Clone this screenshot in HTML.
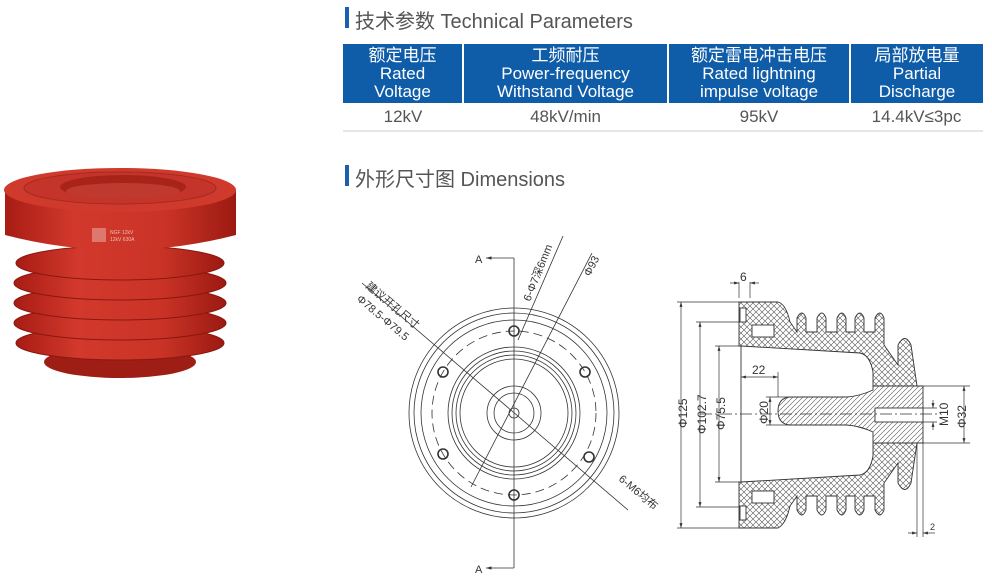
<!DOCTYPE html>
<html><head><meta charset="utf-8"><style>
body{margin:0;width:992px;height:579px;background:#fff;overflow:hidden;position:relative;font-family:"Liberation Sans","Noto Sans CJK SC",sans-serif;}
.t{position:absolute;color:#555;font-size:20px;}
.bar{position:absolute;width:4px;height:21px;background:#1a5fb0;}
table{position:absolute;left:343px;top:44px;width:640px;border-collapse:collapse;}
th{background:#0f5ca8;color:#fff;font-weight:normal;font-size:17px;line-height:18px;height:59px;border-right:2px solid #fff;padding:0;}
th:last-child{border-right:none}
td{text-align:center;font-size:17px;color:#555;height:27px;border-bottom:2px solid #e6e6e6;padding:0;}
</style></head><body>
<div class="bar" style="left:345px;top:7px"></div>
<div class="t" style="left:355px;top:5px">技术参数 Technical Parameters</div>
<table><tr><th style="width:119px">额定电压<br>Rated<br>Voltage</th><th style="width:203px">工频耐压<br>Power-frequency<br>Withstand Voltage</th><th style="width:180px">额定雷电冲击电压<br>Rated lightning<br>impulse voltage</th><th>局部放电量<br>Partial<br>Discharge</th></tr>
<tr><td>12kV</td><td>48kV/min</td><td>95kV</td><td>14.4kV≤3pc</td></tr></table>
<div class="bar" style="left:345px;top:165px"></div>
<div class="t" style="left:355px;top:163px">外形尺寸图 Dimensions</div>

<svg width="992" height="579" style="position:absolute;left:0;top:0" xmlns="http://www.w3.org/2000/svg">
<defs>
<linearGradient id="rg" x1="0" x2="1"><stop offset="0" stop-color="#a81c14"/><stop offset="0.3" stop-color="#d2392c"/><stop offset="0.7" stop-color="#c93326"/><stop offset="1" stop-color="#9c1a12"/></linearGradient>
<pattern id="ch" width="6" height="6" patternUnits="userSpaceOnUse"><path d="M0 0L6 6M6 0L0 6" stroke="#555" stroke-width="0.6"/></pattern>
<pattern id="dh" width="5" height="5" patternUnits="userSpaceOnUse"><path d="M0 5L5 0M-1 1L1 -1M4 6L6 4" stroke="#555" stroke-width="0.6"/></pattern>
<marker id="ar" viewBox="0 0 10 10" refX="10" refY="5" markerWidth="7" markerHeight="7" orient="auto-start-reverse"><path d="M0 2L10 5L0 8z" fill="#333"/></marker>
</defs>
<g>
<ellipse cx="120" cy="362" rx="76" ry="16" fill="#9e1d15"/>
<g fill="url(#rg)" stroke="#8a1810" stroke-width="1">
<ellipse cx="120" cy="343" rx="104" ry="17"/>
<ellipse cx="120" cy="323" rx="106" ry="17"/>
<ellipse cx="120" cy="303" rx="106" ry="17"/>
<ellipse cx="120" cy="283" rx="106" ry="17"/>
<ellipse cx="120" cy="263" rx="104" ry="17"/>
</g>
<path d="M5 190 L5 235 Q120 265 236 235 L236 190z" fill="url(#rg)"/>
<ellipse cx="120" cy="190" rx="116" ry="22" fill="#cf3a2c"/>
<ellipse cx="120" cy="188" rx="96" ry="16" fill="#c4342a" stroke="#a52a20"/>
<ellipse cx="123" cy="187" rx="63" ry="12" fill="#a8241b"/>
<ellipse cx="123" cy="191" rx="57" ry="8" fill="#c0392e"/>
<rect x="92" y="228" width="14" height="14" fill="#e6a49c" opacity="0.6"/>
<text x="110" y="234" font-size="5" fill="#f0c0b8">NGF 12kV</text>
<text x="110" y="241" font-size="5" fill="#f0c0b8">12kV 630A</text>
</g>
<g fill="none" stroke="#333" stroke-width="0.8">
<circle cx="514" cy="413" r="105"/><circle cx="514" cy="413" r="100"/><circle cx="514" cy="413" r="93"/>
<circle cx="514" cy="413" r="82" stroke-dasharray="9,5"/>
<circle cx="514" cy="413" r="66"/><circle cx="514" cy="413" r="62"/><circle cx="514" cy="413" r="58"/><circle cx="514" cy="413" r="54"/>
<circle cx="514" cy="413" r="27"/><circle cx="514" cy="413" r="20"/><circle cx="514" cy="413" r="5"/>
<g stroke-width="1.6"><circle cx="514" cy="331" r="5"/><circle cx="514" cy="495" r="5"/><circle cx="443" cy="372" r="5"/><circle cx="585" cy="372" r="5"/><circle cx="443" cy="454" r="5"/><circle cx="589" cy="457" r="5"/></g>
<path d="M514 258V568"/>
<path d="M514 258H486" marker-end="url(#ar)"/><path d="M514 568H486" marker-end="url(#ar)"/>
<path d="M362 283L628 510"/>
<path d="M471 487L592 253" /><path d="M518 340L563 236"/>
</g>
<g font-size="11" fill="#333">
<text x="475" y="263">A</text><text x="475" y="573">A</text>
<text transform="translate(530,302) rotate(-68)">6-Φ7深6mm</text>
<text transform="translate(590,277) rotate(-63)">Φ93</text>
<text transform="translate(365,287) rotate(40)">建议开孔尺寸</text>
<text transform="translate(356,300) rotate(40)">Φ78.5-Φ79.5</text>
<text transform="translate(618,480) rotate(40)">6-M6均布</text>
</g>
<g stroke="#333" stroke-width="0.9">
<path fill="url(#ch)" d="M739 302H778Q786 304 790 322L797 332V318Q802 308 806 318V332H817V318Q822 308 826 318V332H837V318Q842 308 846 318V332H855V318Q860 308 864 318V332H875V318Q880 308 884 318V345L898 365V345Q905 332 911 345L917 386H873V372Q870 355 860 353L741 346H739Z"/>
<path fill="url(#ch)" d="M739 528H778Q786 524 790 506L797 496V510Q802 520 806 510V496H817V510Q822 520 826 510V496H837V510Q842 520 846 510V496H855V510Q860 520 864 510V496H875V510Q880 520 884 510V483L898 463V483Q905 496 911 483L917 443H873V456Q870 473 860 475L741 482H739Z"/>
<path fill="url(#dh)" d="M873 386H923V443H873V432Q860 426 847 425H790Q778 424 778 411Q778 398 790 397H847Q860 396 873 390Z"/>
<rect x="875" y="408" width="48" height="14" fill="#fff"/>
<rect x="752" y="325" width="22" height="12" fill="#fff"/><rect x="752" y="491" width="22" height="12" fill="#fff"/>
<rect x="740" y="308" width="6" height="14" fill="#fff"/><rect x="740" y="506" width="6" height="14" fill="#fff"/>
<path d="M741 346V482" fill="none"/>
</g>
<g fill="none" stroke="#333" stroke-width="0.7">
<path d="M700 414H940" stroke-dasharray="12,3,2,3"/>
<path d="M739 302H677M739 528H677M739 322H696M739 507H696M741 346H715M741 482H715"/>
<path d="M681 302V528" marker-start="url(#ar)" marker-end="url(#ar)"/>
<path d="M700 322V507" marker-start="url(#ar)" marker-end="url(#ar)"/>
<path d="M719 346V482" marker-start="url(#ar)" marker-end="url(#ar)"/>
<path d="M778 372V397"/><path d="M741 377H778" marker-start="url(#ar)" marker-end="url(#ar)"/>
<path d="M790 397H766M790 425H766"/><path d="M770 397V425" marker-start="url(#ar)" marker-end="url(#ar)"/>
<path d="M923 386H970M923 443H970M923 408H937M923 422H937"/>
<path d="M964 386V443" marker-start="url(#ar)" marker-end="url(#ar)"/>
<path d="M933 400V408" marker-end="url(#ar)"/><path d="M933 430V422" marker-end="url(#ar)"/>
<path d="M739 298V282M750 298V282M730 283H739" marker-end="url(#ar)"/><path d="M759 283H750" marker-end="url(#ar)"/>
<path d="M917 443V537M923 443V537M908 533H917" marker-end="url(#ar)"/><path d="M935 533H923" marker-end="url(#ar)"/>
</g>
<g font-size="12" fill="#333">
<text x="740" y="281">6</text>
<text x="752" y="374">22</text>
<text x="930" y="530" font-size="9">2</text>
<text transform="translate(687,428) rotate(-90)">Φ125</text>
<text transform="translate(706,434) rotate(-90)">Φ102.7</text>
<text transform="translate(725,430) rotate(-90)">Φ75.5</text>
<text transform="translate(768,424) rotate(-90)">Φ20</text>
<text transform="translate(948,426) rotate(-90)">M10</text>
<text transform="translate(966,428) rotate(-90)">Φ32</text>
</g>
</svg>
</body></html>
